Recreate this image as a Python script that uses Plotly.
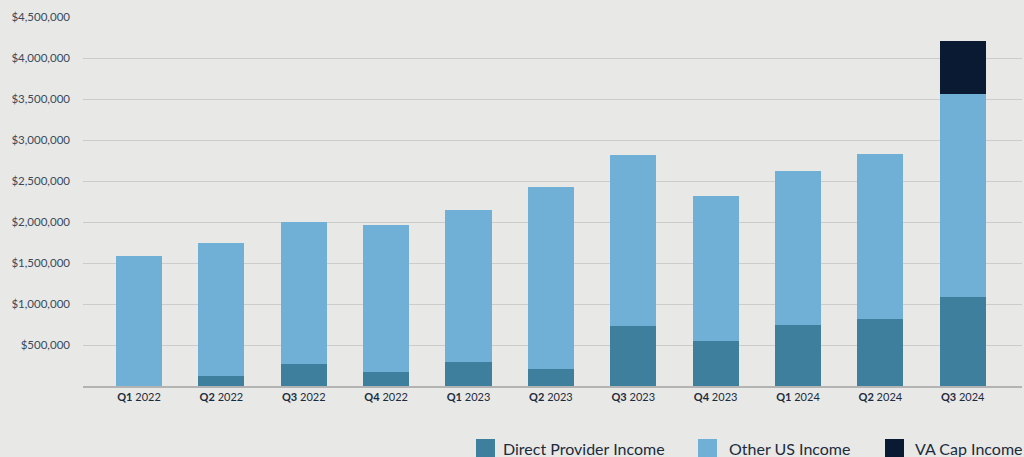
import plotly.graph_objects as go

quarters = ["Q1", "Q2", "Q3", "Q4", "Q1", "Q2", "Q3", "Q4", "Q1", "Q2", "Q3"]
years = ["2022", "2022", "2022", "2022", "2023", "2023", "2023", "2023", "2024", "2024", "2024"]
tick_labels = [f"<b>{q}</b> {y}" for q, y in zip(quarters, years)]
categories = [f"{q} {y}" for q, y in zip(quarters, years)]

direct_provider = [0, 122000, 268000, 171000, 293000, 207000, 732000, 549000, 744000, 817000, 1085000]
other_us = [1585000, 1622000, 1732000, 1792000, 1853000, 2220000, 2085000, 1768000, 1878000, 2012000, 2476000]
va_cap = [0, 0, 0, 0, 0, 0, 0, 0, 0, 0, 646000]

series_names = ["Direct Provider Income", "Other US Income", "VA Cap Income"]
series_colors = ["#3f7f9e", "#71b0d6", "#0b1a33"]

y_ticks = [500000, 1000000, 1500000, 2000000, 2500000, 3000000, 3500000, 4000000, 4500000]
y_tick_labels = [f"${v:,.0f}" for v in y_ticks]

W, H = 1024, 457
L, R, T, B = 83, 2, 17, 71
PW, PH = W - L - R, H - T - B

def px_x(px):
    return (px - L) / PW

def px_y(py):
    return (H - B - py) / PH

BG = "#e8e8e6"
fig = go.Figure()
for vals, name, col in zip([direct_provider, other_us, va_cap], series_names, series_colors):
    fig.add_bar(x=categories, y=vals, name=name, marker_color=col, marker_line_width=0)

# custom legend (square swatches + labels)
legend_sq_x = [476, 698, 885]
legend_txt_x = [501, 727, 913]
shapes = []
annotations = []
for sx, tx, name, col in zip(legend_sq_x, legend_txt_x, series_names, series_colors):
    shapes.append(dict(type="rect", xref="paper", yref="paper",
                       x0=px_x(sx), x1=px_x(sx + 19), y0=px_y(459), y1=px_y(439),
                       fillcolor=col, line_width=0, layer="above"))
    annotations.append(dict(xref="paper", yref="paper", x=px_x(tx), y=px_y(448),
                            xanchor="left", yanchor="middle", text=name, showarrow=False,
                            font=dict(size=16, color="#1c2b3c", family="Lato")))

fig.update_layout(
    barmode="stack",
    bargap=0.44,
    width=W, height=H,
    paper_bgcolor=BG, plot_bgcolor=BG,
    margin=dict(l=L, r=R, t=T, b=B, autoexpand=False),
    font=dict(family="Lato", color="#3a4a5c", size=11),
    showlegend=False,
    shapes=shapes,
    annotations=annotations,
)
fig.update_xaxes(
    tickmode="array", tickvals=categories, ticktext=tick_labels,
    range=[-0.68, 10.72], showline=True, linecolor="#b3b3b3", linewidth=2,
    showgrid=False, ticks="", tickfont=dict(size=11, color="#1c2b3c"),
)
fig.update_yaxes(
    range=[0, 4500000], tickmode="array", tickvals=y_ticks, ticktext=y_tick_labels,
    showgrid=True, gridcolor="#cccccc", gridwidth=1, zeroline=False, showline=False,
    ticks="", ticklabelstandoff=12, tickfont=dict(size=11.5, color="#3a4a5c"),
)
fig.write_html("out.html")
